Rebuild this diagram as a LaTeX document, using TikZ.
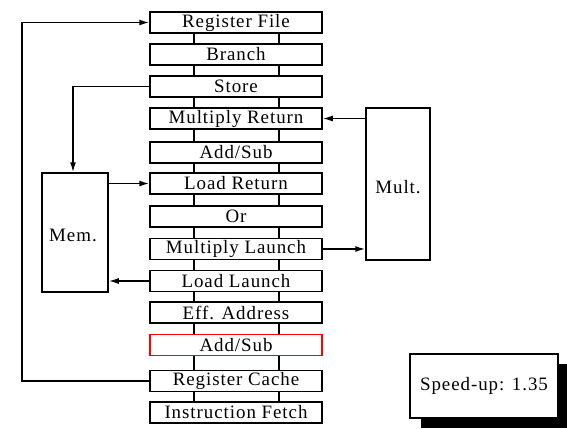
\documentclass[tikz,border=0pt]{standalone}
\usepackage{fontspec}
\setmainfont{Liberation Serif}[LetterSpace=5]
\usetikzlibrary{arrows.meta}
\begin{document}
\begin{tikzpicture}[x=1bp,y=-1bp,line width=1.5bp,
  stage/.style={draw,fill=white,minimum width=172bp,minimum height=21bp,inner sep=0pt,font=\fontsize{19}{21}\selectfont},
  unit/.style={draw,fill=white,inner sep=0pt,font=\fontsize{19}{21}\selectfont},
  arr/.style={-{Latex[length=10bp,width=6bp]}},
  link/.style={line width=1.5bp}]
\useasboundingbox (0,0) rectangle (567,428);
% stages
\node[stage] (rf) at (236,22.5) {Register File};
\node[stage] (br) at (236,54.5) {Branch};
\node[stage] (st) at (236,86.5) {Store};
\node[stage] (mr) at (236,118.5) {Multiply Return};
\node[stage] (as1) at (236,152.5) {Add/Sub};
\node[stage] (lr) at (236,183.5) {Load Return};
\node[stage] (or) at (236,216.5) {Or};
\node[stage] (ml) at (236,249) {Multiply Launch};
\node[stage] (ll) at (236,281) {Load Launch};
\node[stage] (ea) at (236,312.5) {Eff. Address};
\node[stage,draw=red] (as2) at (236,345) {Add/Sub};
\node[stage] (rc) at (236,381) {Register Cache};
\node[stage] (ifb) at (236,412.5) {Instruction Fetch};
% links between stages
\foreach \a/\b in {rf/br,br/st,st/mr,mr/as1,as1/lr,lr/or,or/ml,ml/ll,ll/ea,ea/as2,as2/rc,rc/ifb}{
  \draw[link] ([xshift=-42bp]\a.south) -- ([xshift=-42bp]\b.north);
  \draw[link] ([xshift=43bp]\a.south) -- ([xshift=43bp]\b.north);
}
% units
\node[unit,minimum width=66bp,minimum height=119bp] (mem) at (75,232.5) {};
\node[font=\fontsize{19}{21}\selectfont] (memlbl) at (73,235) {Mem.};
\node[unit,minimum width=64bp,minimum height=152bp] (mult) at (398,184) {};
\node[font=\fontsize{19}{21}\selectfont] (multlbl) at (398,187) {Mult.};
% speed-up box with shadow
\fill (421,364) rectangle (567,428);
\node[unit,minimum width=148bp,minimum height=64bp] (sp) at (484,386) {Speed-up: 1.35};
% arrows
\coordinate (fbx) at (22,0);
\coordinate (stx) at (73,0);
\draw[arr] (st.west) -- (st.west -| stx) -- (stx |- mem.north);
\draw[arr] (mem.east |- lr) -- (lr.west);
\draw[arr] (ll.west) -- (mem.east |- ll);
\draw[arr] (mult.west |- mr) -- (mr.east);
\draw[arr] (ml.east) -- (mult.west |- ml);
\draw[arr] (rc.west) -- (rc.west -| fbx) |- (rf.west);
\end{tikzpicture}
\end{document}
